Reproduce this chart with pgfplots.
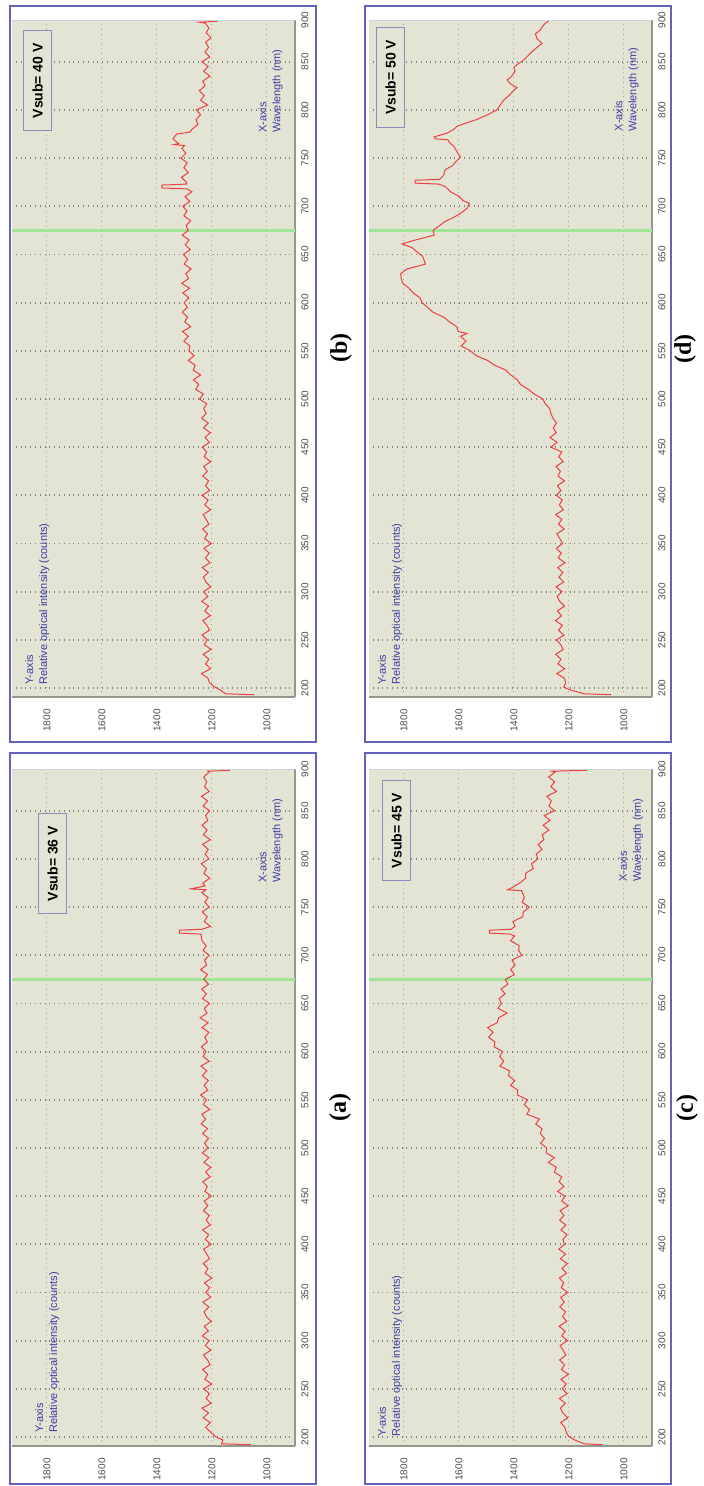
\documentclass[border=0pt]{standalone}
\usepackage{pgfplots}
\pgfplotsset{compat=1.18}
\usepackage{fontspec}
\setmainfont{Liberation Sans}
\newfontfamily\capfont{Liberation Serif}
\definecolor{beige}{RGB}{228,228,212}
\definecolor{frameblue}{RGB}{100,100,190}
\definecolor{labblue}{RGB}{60,60,165}
\definecolor{spec}{RGB}{235,65,65}
\definecolor{mkgreen}{RGB}{160,228,150}
\definecolor{gridgray}{RGB}{165,165,155}
\definecolor{axgray}{RGB}{150,150,140}
\definecolor{boxborder}{RGB}{140,140,190}
\definecolor{topstrip}{RGB}{205,210,220}
\pgfplotsset{
 panel/.style={
   x={(0pt,0.48175pt)}, y={(-0.1375pt,0pt)},
   xmin=190.7, xmax=893.3, ymin=898, ymax=1927,
   anchor=center,
   axis background/.style={fill=beige},
   axis x line*=top, axis y line*=right,
   axis line style={axgray, line width=1pt},
   xtick={200,250,...,850}, ytick={1000,1200,...,1800},
   extra x ticks={893.3}, extra x tick labels={900},
   extra x tick style={grid=none},
   grid=major,
   x grid style={gridgray!80!black, dotted, line width=0.9pt},
   y grid style={gridgray, dotted, line width=0.5pt},
   tick align=outside, major tick length=2pt,
   tick style={axgray, line width=0.5pt},
   /pgf/number format/1000 sep={},
   /pgf/number format/assume math mode=true,
   ticklabel style={font=\fontsize{5}{6}\selectfont, text=black!70},
   xticklabel style={rotate=90, anchor=north, inner sep=1pt},
   yticklabel style={rotate=90, anchor=east, inner xsep=4pt},
 },
}
\tikzset{
 ylab/.style={rotate=90, anchor=north west, align=left, text=labblue, font=\fontsize{5.5}{7}\selectfont, inner sep=0pt},
 xlab/.style={rotate=90, anchor=south west, align=left, text=labblue, font=\fontsize{5.5}{7}\selectfont, inner sep=0pt},
 vbox/.style={rotate=90, anchor=north east, draw=boxborder, line width=0.6pt, fill=beige, font=\bfseries\fontsize{7}{8}\selectfont, minimum width=50pt, minimum height=14pt, inner sep=1pt},
 redline/.style={spec, line width=0.5pt},
 greenline/.style={mkgreen, line width=1.3pt},
}
\begin{document}
\begin{tikzpicture}
\useasboundingbox (0pt,0pt) rectangle (352pt,-743pt);
\fill[white] (0pt,0pt) rectangle (352pt,-743pt);
% frames
\draw[frameblue, line width=0.8pt] (5pt,-3pt) rectangle (158pt,-371pt);
\draw[frameblue, line width=0.8pt] (182.5pt,-3pt) rectangle (335.5pt,-371pt);
\draw[frameblue, line width=0.8pt] (5pt,-376.5pt) rectangle (158pt,-742pt);
\draw[frameblue, line width=0.8pt] (182.5pt,-376.5pt) rectangle (335.5pt,-742pt);

% ---------- (b) 40 V, top left
\begin{axis}[panel, at={(76.75pt,-179.25pt)}]
\addplot[greenline] coordinates {(675,898) (675,1927)};
\addplot[redline] coordinates {
(193,1047)(194,1150)(198,1170)(202,1195)(206,1210)
(210,1214)(215,1238)(220,1205)(225,1223)(230,1211)(235,1232)(240,1203)(245,1228)(250,1217)(255,1236)
(260,1209)(265,1218)(270,1233)(275,1206)(280,1226)(285,1212)(290,1237)(295,1215)(300,1230)(305,1204)
(310,1222)(315,1231)(320,1213)(325,1235)(330,1207)(335,1224)(340,1210)(345,1229)(350,1202)(355,1227)
(360,1216)(365,1234)(370,1211)(375,1221)(380,1232)(385,1205)(390,1226)(395,1214)(400,1236)(405,1208)
(410,1223)(415,1212)(420,1233)(425,1217)(430,1230)(435,1204)(440,1228)(445,1219)(450,1235)(455,1209)
(460,1225)(465,1206)(470,1231)(475,1213)(480,1237)(485,1221)(490,1230)(495,1219)(500,1245)(505,1231)
(510,1259)(515,1248)(520,1267)(525,1241)(530,1268)(535,1261)(540,1286)(545,1265)(550,1284)(555,1280)
(560,1302)(565,1286)(570,1307)(575,1277)(580,1299)(585,1289)(590,1308)(595,1290)(600,1301)(605,1284)
(610,1306)(615,1281)(620,1310)(625,1285)(630,1295)(635,1276)(640,1301)(645,1288)(650,1304)(655,1279)
(660,1297)(665,1283)(670,1308)(675,1286)(680,1294)(685,1277)(690,1302)(695,1291)(700,1306)(705,1280)
(710,1298)(715,1273)(718,1290)(719,1382)(722,1382)(723,1292)(725,1293)(730,1311)(735,1286)(740,1302)
(745,1290)(750,1313)(755,1295)(760,1309)(763,1300)(764,1338)(765,1321)(770,1342)(775,1328)(777,1280)
(780,1272)(785,1251)(790,1258)(795,1241)(800,1257)(805,1216)(810,1241)(815,1228)(820,1246)(825,1225)
(830,1233)(835,1207)(840,1230)(845,1214)(850,1236)(855,1208)(860,1225)(865,1212)(870,1223)(875,1204)
(880,1221)(885,1211)(890,1224)(891,1245)(892,1180)
};
\draw[topstrip, line width=1.2pt] (rel axis cs:1,0) -- (rel axis cs:1,1);
\node[ylab] at (rel axis cs:0.018,0.955) {Y-axis\\Relative optical intensity (counts)};
\node[xlab] at (rel axis cs:0.833,0.042) {X-axis\\Wavelength (nm)};
\node[vbox] at (rel axis cs:0.985,0.961) {Vsub= 40 V};
\end{axis}

% ---------- (d) 50 V, top right
\begin{axis}[panel, at={(255.25pt,-179.25pt)}]
\addplot[greenline] coordinates {(675,898) (675,1927)};
\addplot[redline] coordinates {
(193,1047)(194,1145)(198,1195)(201,1219)(205,1212)
(210,1216)(215,1244)(220,1215)(225,1240)(230,1229)(235,1248)(240,1221)(245,1230)(250,1245)(255,1218)
(260,1238)(265,1224)(270,1249)(275,1227)(280,1242)(285,1216)(290,1234)(295,1243)(300,1225)(305,1247)
(310,1219)(315,1236)(320,1222)(325,1241)(330,1214)(335,1239)(340,1228)(345,1246)(350,1223)(355,1233)
(360,1244)(365,1217)(370,1238)(375,1226)(380,1248)(385,1220)(390,1235)(395,1224)(400,1245)(405,1229)
(410,1242)(415,1216)(420,1240)(425,1231)(430,1247)(435,1221)(440,1237)(445,1226)(450,1266)(455,1243)
(460,1269)(465,1246)(470,1257)(475,1245)
(480,1258)(485,1266)(490,1270)(495,1286)(500,1295)(505,1326)(510,1348)(515,1376)(520,1388)(525,1412)
(530,1430)(535,1470)(540,1496)(545,1538)(550,1558)(555,1592)(560,1574)(565,1594)(568,1571)(570,1602)
(575,1608)(580,1634)(585,1656)(590,1694)(595,1714)(600,1734)(605,1742)(610,1766)(615,1782)(620,1804)
(625,1810)(630,1812)(635,1788)(637,1760)(640,1722)(645,1728)(648,1732)(652,1750)(657,1770)(661,1807)
(665,1758)(670,1690)(675,1694)(680,1670)(684,1652)(688,1622)(693,1592)(698,1570)(703,1562)(706,1586)
(710,1598)(715,1630)(720,1648)(723,1672)(724,1759)(727,1759)(728,1670)(732,1656)(738,1650)(742,1624)
(746,1612)(751,1595)(756,1606)(762,1618)(766,1634)(769,1640)(770,1686)(772,1690)(776,1642)(780,1618)
(783,1607)(787,1568)(790,1535)(795,1496)(800,1462)(805,1450)(810,1438)(815,1418)(820,1402)(823,1389)
(827,1412)(831,1425)(835,1408)(840,1396)(844,1400)(847,1389)(851,1368)(855,1353)(860,1336)(865,1316)
(869,1298)(874,1316)(879,1322)(883,1304)(886,1298)(890,1286)(892,1274)
};
\draw[topstrip, line width=1.2pt] (rel axis cs:1,0) -- (rel axis cs:1,1);
\node[ylab] at (rel axis cs:0.018,0.97) {Y-axis\\Relative optical intensity (counts)};
\node[xlab] at (rel axis cs:0.835,0.046) {X-axis\\Wavelength (nm)};
\node[vbox] at (rel axis cs:0.99,0.975) {Vsub= 50 V};
\end{axis}

% ---------- (a) 36 V, bottom left
\begin{axis}[panel, at={(76.75pt,-553.75pt)}]
\addplot[greenline] coordinates {(675,898) (675,1927)};
\addplot[redline] coordinates {
(192,1058)(193,1165)(197,1160)(200,1185)(204,1200)(207,1212)
(210,1223)(215,1206)(220,1232)(225,1212)(230,1236)(235,1203)(240,1221)(245,1209)(250,1230)(255,1201)
(260,1226)(265,1215)(270,1234)(275,1207)(280,1216)(285,1231)(290,1204)(295,1224)(300,1210)(305,1235)
(310,1213)(315,1228)(320,1202)(325,1220)(330,1229)(335,1211)(340,1233)(345,1205)(350,1222)(355,1208)
(360,1227)(365,1200)(370,1225)(375,1214)(380,1232)(385,1209)(390,1219)(395,1230)(400,1203)(405,1224)
(410,1212)(415,1234)(420,1206)(425,1221)(430,1210)(435,1231)(440,1215)(445,1228)(450,1202)(455,1226)
(460,1217)(465,1233)(470,1207)(475,1223)(480,1204)(485,1229)(490,1211)(495,1235)(500,1214)(505,1227)
(510,1212)(515,1234)(520,1216)(525,1239)(530,1223)(535,1237)(540,1208)(545,1231)(550,1220)(555,1241)
(560,1215)(565,1229)(570,1213)(575,1235)(580,1219)(585,1240)(590,1210)(595,1232)(600,1222)(605,1238)
(610,1217)(615,1226)(620,1211)(625,1236)(630,1214)(635,1243)(640,1218)(645,1228)(650,1209)(655,1234)
(660,1221)(665,1237)(670,1212)(675,1230)(680,1216)(685,1241)(690,1219)(695,1227)(700,1210)(705,1232)
(710,1221)(715,1236)(722,1240)(723,1318)(726,1318)(727,1236)(730,1205)(735,1228)(740,1217)(745,1235)
(750,1210)(755,1226)(760,1214)(765,1237)(768,1222)(769,1276)(772,1225)(775,1233)(780,1208)(785,1229)
(790,1220)(795,1239)(800,1211)(805,1225)(810,1213)(815,1234)(820,1206)(825,1231)(830,1218)(835,1236)
(840,1215)(845,1223)(850,1209)(855,1232)(860,1216)(865,1238)(870,1210)(875,1227)(880,1219)(885,1230)
(890,1211)(891,1215)(892,1134)
};
\draw[topstrip, line width=1.2pt] (rel axis cs:1,0) -- (rel axis cs:1,1);
\node[ylab] at (rel axis cs:0.019,0.92) {Y-axis\\Relative optical intensity (counts)};
\node[xlab] at (rel axis cs:0.832,0.042) {X-axis\\Wavelength (nm)};
\node[vbox] at (rel axis cs:0.935,0.908) {Vsub= 36 V};
\end{axis}

% ---------- (c) 45 V, bottom right
\begin{axis}[panel, at={(255.25pt,-553.75pt)}]
\addplot[greenline] coordinates {(675,898) (675,1927)};
\addplot[redline] coordinates {
(192,1078)(193,1145)(197,1180)(201,1202)(205,1210)
(210,1215)(215,1230)(220,1204)(225,1222)(230,1231)(235,1213)(240,1235)(245,1207)(250,1224)(255,1210)
(260,1229)(265,1202)(270,1227)(275,1216)(280,1234)(285,1211)(290,1221)(295,1232)(300,1205)(305,1226)
(310,1214)(315,1236)(320,1208)(325,1223)(330,1212)(335,1233)(340,1217)(345,1230)(350,1204)(355,1228)
(360,1219)(365,1235)(370,1209)(375,1225)(380,1206)(385,1231)(390,1213)(395,1237)(400,1216)(405,1222)
(410,1207)(415,1229)(420,1211)(425,1234)(430,1218)(435,1232)(440,1203)(445,1226)(450,1215)(455,1241)
(460,1218)(465,1236)(470,1226)(475,1253)(480,1246)(485,1275)(490,1253)(495,1283)(500,1281)(505,1303)
(510,1289)(515,1304)(520,1298)(525,1321)(530,1307)(535,1353)(540,1343)(545,1363)(550,1350)(555,1387)
(560,1386)(565,1412)(570,1397)(575,1420)(580,1416)(585,1451)(590,1437)(595,1452)(600,1441)(605,1472)
(610,1469)(615,1492)(620,1476)(625,1496)(630,1461)(635,1456)(640,1425)(645,1458)(650,1446)(655,1454)
(660,1432)(665,1447)(670,1422)(675,1431)(680,1398)(685,1412)(690,1396)(695,1407)(700,1371)(705,1383)
(710,1381)(715,1412)(720,1398)(722,1414)(723,1489)(726,1489)(727,1410)(730,1396)(735,1404)(740,1368)
(745,1366)(750,1344)(755,1370)(760,1362)(767,1372)(768,1423)(770,1408)(775,1379)(780,1357)(785,1358)
(790,1330)(795,1336)(800,1313)(805,1319)(810,1298)(815,1312)(820,1291)(825,1297)(830,1273)(835,1294)
(840,1269)(845,1290)(850,1253)(855,1273)(860,1264)(865,1280)(870,1245)(875,1266)(880,1252)(885,1274)
(890,1251)(891,1262)(892,1133)
};
\draw[topstrip, line width=1.2pt] (rel axis cs:1,0) -- (rel axis cs:1,1);
\node[ylab] at (rel axis cs:0.014,0.97) {Y-axis\\Relative optical intensity (counts)};
\node[xlab] at (rel axis cs:0.833,0.03) {X-axis\\Wavelength (nm)};
\node[vbox] at (rel axis cs:0.984,0.954) {Vsub= 45 V};
\end{axis}

% captions
\node[rotate=90, font=\capfont\bfseries\fontsize{12}{14}\selectfont] at (170.5pt,-174pt) {(b)};
\node[rotate=90, font=\capfont\bfseries\fontsize{12}{14}\selectfont] at (342.5pt,-174.5pt) {(d)};
\node[rotate=90, font=\capfont\bfseries\fontsize{12}{14}\selectfont] at (170pt,-553.5pt) {(a)};
\node[rotate=90, font=\capfont\bfseries\fontsize{12}{14}\selectfont] at (343.5pt,-554pt) {(c)};
\end{tikzpicture}
\end{document}
